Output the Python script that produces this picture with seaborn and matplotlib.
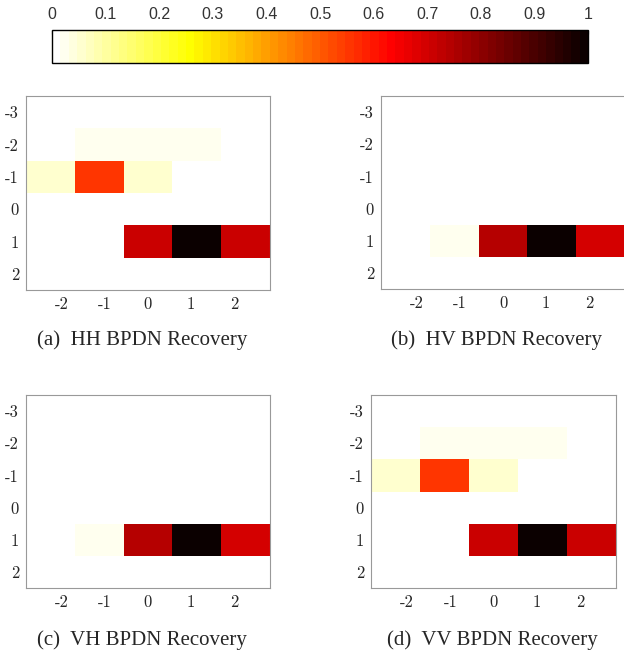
import numpy as np
import pandas as pd
import matplotlib
matplotlib.use('Agg')
import matplotlib.pyplot as plt
import seaborn as sns

# grid: rows are integer y, columns are 5 cells spanning about -2.84..2.84
rows = [-3, -2, -1, 0, 1, 2]
col_centers = [-2.27, -1.135, 0.0, 1.135, 2.27]
x_ticks = [-2, -1, 0, 1, 2]

hh = [[0, 0, 0, 0, 0],
      [0, 0.02, 0.02, 0.02, 0],
      [0.05, 0.55, 0.05, 0, 0],
      [0, 0, 0, 0, 0],
      [0, 0, 0.71, 0.99, 0.71],
      [0, 0, 0, 0, 0]]
hv = [[0, 0, 0, 0, 0],
      [0, 0, 0, 0, 0],
      [0, 0, 0, 0, 0],
      [0, 0, 0, 0, 0],
      [0, 0.02, 0.74, 0.99, 0.69],
      [0, 0, 0, 0, 0]]
vh = [[0, 0, 0, 0, 0],
      [0, 0, 0, 0, 0],
      [0, 0, 0, 0, 0],
      [0, 0, 0, 0, 0],
      [0, 0.02, 0.74, 0.99, 0.69],
      [0, 0, 0, 0, 0]]
vv = [[0, 0, 0, 0, 0],
      [0, 0.02, 0.02, 0.02, 0],
      [0.05, 0.55, 0.05, 0, 0],
      [0, 0, 0, 0, 0],
      [0, 0, 0.71, 0.99, 0.71],
      [0, 0, 0, 0, 0]]

captions = ['(a)  HH BPDN Recovery', '(b)  HV BPDN Recovery',
            '(c)  VH BPDN Recovery', '(d)  VV BPDN Recovery']
cbar_ticks = [0, 0.1, 0.2, 0.3, 0.4, 0.5, 0.6, 0.7, 0.8, 0.9, 1]

sns.set_style('white')
plt.rcParams['axes.unicode_minus'] = False

W, H = 624, 655
fig = plt.figure(figsize=(W / 100, H / 100), dpi=100)
cmap = plt.get_cmap('hot_r', 64)

# axes boxes in pixels: left, top, right, bottom
boxes = [(26, 96, 270, 290), (381, 96, 625, 289),
         (26, 395, 270, 588), (371, 395, 616, 588)]
cap_pos = [(142, 340), (497, 340), (142, 640), (492, 640)]

def px(l, t, r, b):
    return [l / W, 1 - b / H, (r - l) / W, (b - t) / H]

step = col_centers[1] - col_centers[0]
x0 = col_centers[0] - step / 2

for data, box, cap, cp in zip([hh, hv, vh, vv], boxes, captions, cap_pos):
    ax = fig.add_axes(px(*box))
    df = pd.DataFrame(data, index=rows, columns=col_centers)
    sns.heatmap(df, ax=ax, cmap=cmap, vmin=0, vmax=1, cbar=False,
                xticklabels=False, yticklabels=False)
    ax.set_xticks([(v - x0) / step for v in x_ticks])
    ax.set_xticklabels([str(v) for v in x_ticks], family='cmr10', fontsize=12)
    ax.set_yticks([i + 0.5 for i in range(len(rows))])
    ax.set_yticklabels([str(v) for v in rows], family='cmr10', fontsize=12,
                       rotation=0)
    ax.set_xlabel('')
    ax.set_ylabel('')
    for s in ax.spines.values():
        s.set_visible(True)
        s.set_color('#999999')
        s.set_linewidth(0.8)
    ax.tick_params(direction='in', top=True, right=True, length=3,
                   color='#999999', labelcolor='#262626', pad=5)
    fig.text(cp[0] / W, 1 - cp[1] / H, cap, ha='center', va='center',
             family='Liberation Serif', fontsize=15)

cax = fig.add_axes(px(52, 30, 588, 63))
sm = plt.cm.ScalarMappable(cmap=cmap, norm=plt.Normalize(0, 1))
cb = fig.colorbar(sm, cax=cax, orientation='horizontal', ticklocation='top')
cb.set_ticks(cbar_ticks)
cb.set_ticklabels([('%g' % v) for v in cbar_ticks])
cb.outline.set_edgecolor('black')
cb.outline.set_linewidth(1)
cax.tick_params(direction='in', length=3, color='black', labelsize=11.5,
                pad=6)
for lab in cax.get_xticklabels():
    lab.set_family('Liberation Sans')
    lab.set_color('#333333')

fig.savefig('out.png', dpi=100)
